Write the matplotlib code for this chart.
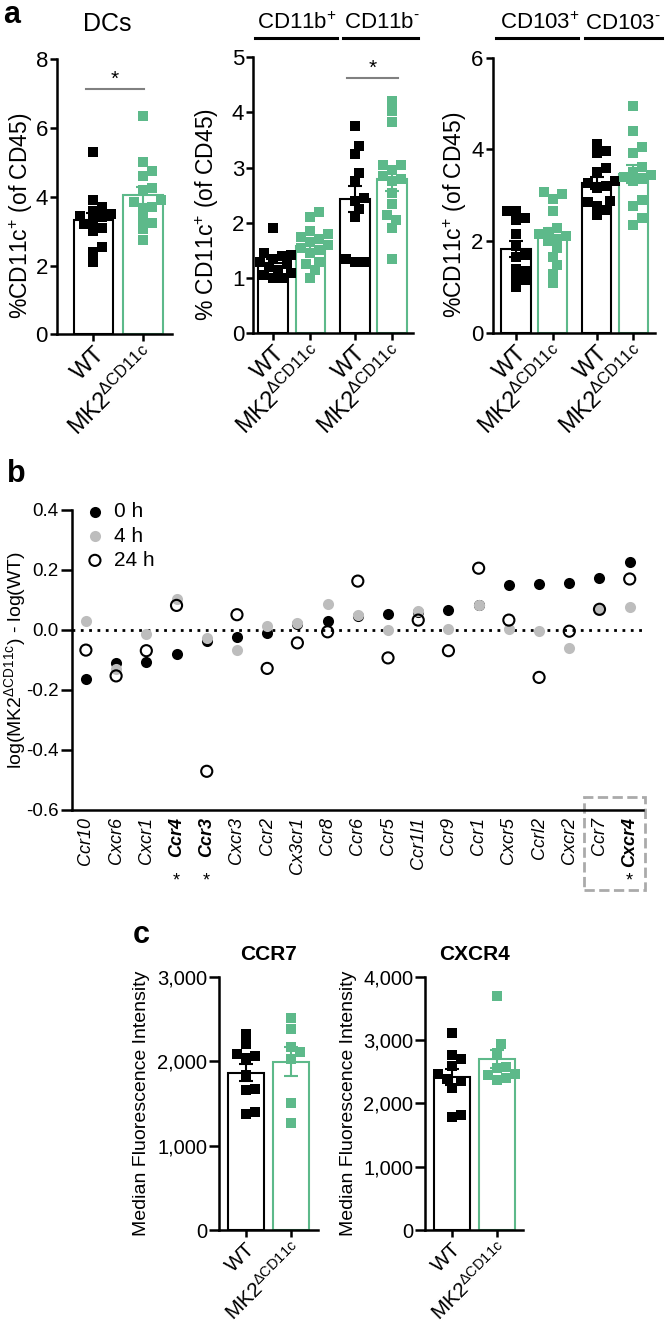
### ------------------------------ Imports ------------------------------ ###

import numpy as np
import matplotlib
matplotlib.use("Agg")
import matplotlib.pyplot as plt
from matplotlib.patches import Rectangle
from matplotlib.ticker import StrMethodFormatter
from matplotlib.transforms import blended_transform_factory

plt.rcParams['font.family'] = ['Liberation Sans', 'DejaVu Sans']
plt.rcParams['mathtext.fontset'] = 'custom'
plt.rcParams['mathtext.rm'] = 'Liberation Sans'
plt.rcParams['mathtext.it'] = 'Liberation Sans:italic'
plt.rcParams['mathtext.bf'] = 'Liberation Sans:bold'
plt.rcParams['mathtext.default'] = 'regular'
plt.rcParams['axes.unicode_minus'] = False

### ------------------------------ Data ------------------------------ ###

groups = ["WT", "MK2$^{ΔCD11c}$"]

# panel a : %CD11c+ (of CD45), one list per bar
dc_wt = [5.3, 3.9, 3.7, 3.6, 3.5, 3.45, 3.4, 3.3, 3.2, 3.1, 3.0, 2.55, 2.4, 2.1]
dc_mk2 = [6.35, 5.0, 4.75, 4.6, 4.25, 4.2, 3.9, 3.85, 3.7, 3.65, 3.35, 3.25, 3.05, 2.75]

cd11bp_wt = [1.9, 1.45, 1.42, 1.4, 1.35, 1.3, 1.25, 1.2, 1.15, 1.1, 1.05, 1.0, 1.0]
cd11bp_mk2 = [2.2, 2.1, 1.85, 1.8, 1.75, 1.7, 1.65, 1.6, 1.55, 1.5, 1.45, 1.3, 1.25, 1.15, 1.0]
cd11bn_wt = [3.75, 3.4, 3.25, 2.9, 2.75, 2.45, 2.4, 2.25, 2.1, 1.35, 1.3, 1.3]
cd11bn_mk2 = [4.2, 4.02, 3.82, 3.05, 3.05, 2.95, 2.85, 2.8, 2.75, 2.55, 2.35, 2.15, 2.05, 1.9, 1.35]

cd103p_wt = [2.65, 2.65, 2.5, 2.45, 2.15, 1.9, 1.7, 1.65, 1.4, 1.35, 1.2, 1.15, 1.0]
cd103p_mk2 = [3.08, 3.03, 2.92, 2.66, 2.28, 2.2, 2.15, 2.1, 2.05, 2.0, 1.84, 1.66, 1.48, 1.29, 1.08]
cd103n_wt = [4.11, 3.97, 3.91, 3.59, 3.51, 3.3, 3.26, 3.21, 3.15, 2.87, 2.85, 2.77, 2.68, 2.57]
cd103n_mk2 = [4.95, 4.41, 4.05, 3.93, 3.62, 3.5, 3.45, 3.4, 3.35, 3.3, 2.89, 2.76, 2.5, 2.35]

# panel b : log(MK2) - log(WT) per chemokine receptor
genes = ["Ccr10", "Cxcr6", "Cxcr1", "Ccr4", "Ccr3", "Cxcr3", "Ccr2", "Cx3cr1", "Ccr8", "Ccr6",
         "Ccr5", "Ccr1l1", "Ccr9", "Ccr1", "Cxcr5", "Ccrl2", "Cxcr2", "Ccr7", "Cxcr4"]
h0 = [-0.162, -0.111, -0.106, -0.081, -0.035, -0.024, -0.011, 0.020, 0.029, 0.047,
      0.053, 0.060, 0.068, 0.085, 0.151, 0.154, 0.156, 0.174, 0.228]
h4 = [0.031, -0.131, -0.014, 0.104, -0.026, -0.067, 0.014, 0.024, 0.087, 0.050,
      0.000, 0.064, 0.002, 0.083, 0.002, -0.002, -0.061, 0.068, 0.077]
h24 = [-0.067, -0.153, -0.069, 0.082, -0.471, 0.051, -0.128, -0.043, -0.006, 0.163,
       -0.093, 0.033, -0.069, 0.206, 0.033, -0.158, -0.004, 0.069, 0.170]
bold_genes = ["Ccr4", "Ccr3", "Cxcr4"]

# panel c : median fluorescence intensity
ccr7_wt = [2320, 2200, 2080, 2060, 2040, 1840, 1670, 1660, 1400, 1370]
ccr7_mk2 = [2510, 2380, 2170, 2110, 2020, 1500, 1270]
cxcr4_wt = [3105, 2760, 2700, 2590, 2470, 2380, 2360, 2240, 1820, 1790]
cxcr4_mk2 = [3695, 2940, 2800, 2580, 2560, 2470, 2450, 2400, 2370]

### ------------------------------ Helpers ------------------------------ ###

W, H = 666, 1330
GREEN = "#5db98a"
fig = plt.figure(figsize=(W / 100, H / 100), dpi=100)


def px_axes(left, right, top, bottom):
    # place an axes from pixel edges of the reference
    return fig.add_axes([left / W, 1 - bottom / H, (right - left) / W, (bottom - top) / H])


def style(ax):
    for s in ['top', 'right']:
        ax.spines[s].set_visible(False)
    for s in ['left', 'bottom']:
        ax.spines[s].set_linewidth(1.8)
    ax.tick_params(width=1.8, length=5, pad=1.5, direction='out')


def swarm_x(ax, x0, vals, d_px):
    # simple beeswarm, spread points that would overlap (pixel space)
    pts = ax.transData.transform(np.column_stack([np.full(len(vals), x0), vals]))
    cx, ys = pts[0, 0], pts[:, 1]
    out = np.zeros(len(vals))
    placed = []
    for i in np.argsort(ys):
        for k in [0, 1, -1, 2, -2, 3, -3, 4, -4, 5, -5]:
            xp = cx + k * d_px * 0.5
            if all(np.hypot(xp - px, ys[i] - py) >= d_px for px, py in placed):
                break
        placed.append((xp, ys[i]))
        out[i] = xp
    return ax.transData.inverted().transform(np.column_stack([out, ys]))[:, 0]


def bar_scatter(ax, xpos, series, colors, ms=55, d_px=9):
    for x, vals, c in zip(xpos, series, colors):
        vals = np.asarray(vals, dtype=float)
        m = vals.mean()
        sem = vals.std(ddof=1) / np.sqrt(len(vals))
        ax.bar(x, m, width=0.8, facecolor='white', edgecolor=c, linewidth=1.5, zorder=1)
        ax.scatter(swarm_x(ax, x, vals, d_px), vals, marker='s', s=ms, color=c,
                   linewidths=0, zorder=2, clip_on=False)
        ax.errorbar(x, m, yerr=sem, fmt='none', ecolor=c, elinewidth=1.5,
                    capsize=5, capthick=1.5, zorder=3)


def sig_bar(ax, x1, x2, y):
    ax.plot([x1, x2], [y, y], color='#808080', lw=1.5, clip_on=False)
    ax.text((x1 + x2) / 2, y, '*', ha='center', va='bottom', fontsize=15)


def header(ax, x1, x2, xt, label):
    tr = blended_transform_factory(ax.transData, ax.transAxes)
    ax.plot([x1, x2], [1.07, 1.07], color='black', lw=2.2, transform=tr, clip_on=False)
    ax.text(xt, 1.125, label, ha='center', va='center', fontsize=16, transform=tr)


### ------------------------------ Panel a ------------------------------ ###

ax1 = px_axes(57, 172, 59.3, 334.3)
ax1.set_xlim(-0.735, 1.59)
ax1.set_ylim(0, 8)
style(ax1)
bar_scatter(ax1, [0, 1], [dc_wt, dc_mk2], ['black', GREEN])
ax1.set_yticks([0, 2, 4, 6, 8])
sig_bar(ax1, -0.15, 1.03, 7.13)
ax1.text(0.29, 1.13, "DCs", fontsize=18, ha='center', va='center',
         transform=blended_transform_factory(ax1.transData, ax1.transAxes))

ax2 = px_axes(253.3, 413.3, 57.3, 333.3)
ax2.set_xlim(-0.54, 3.78)
ax2.set_ylim(0, 5)
style(ax2)
bar_scatter(ax2, [0, 1, 2.2, 3.2], [cd11bp_wt, cd11bp_mk2, cd11bn_wt, cd11bn_mk2],
            ['black', GREEN, 'black', GREEN])
ax2.set_yticks([0, 1, 2, 3, 4, 5])
sig_bar(ax2, 1.98, 3.38, 4.63)
header(ax2, -0.49, 1.71, 0.63, "CD11b$^{+}$")
header(ax2, 1.88, 3.91, 2.93, "CD11b$^{\u2010}$")

ax3 = px_axes(492.7, 655, 57.7, 332.7)
ax3.set_xlim(-0.63, 3.79)
ax3.set_ylim(0, 6)
style(ax3)
bar_scatter(ax3, [0, 1, 2.2, 3.2], [cd103p_wt, cd103p_mk2, cd103n_wt, cd103n_mk2],
            ['black', GREEN, 'black', GREEN])
ax3.set_yticks([0, 2, 4, 6])
header(ax3, -0.53, 1.7, 0.65, "CD103$^{+}$")
header(ax3, 1.88, 3.97, 2.92, "CD103$^{\u2010}$")

for ax, xt, lab, lx in [(ax1, [0, 1], "%CD11c$^{+}$ (of CD45)", -0.31),
                        (ax2, [0, 1, 2.2, 3.2], "% CD11c$^{+}$ (of CD45)", -0.29),
                        (ax3, [0, 1, 2.2, 3.2], "%CD11c$^{+}$ (of CD45)", -0.235)]:
    ax.set_xticks(xt)
    ax.set_xticklabels(groups * (len(xt) // 2), rotation=45, ha='right',
                       rotation_mode='anchor', fontsize=17)
    ax.tick_params(axis='y', labelsize=16)
    ax.set_ylabel(lab, fontsize=16.5, va='center')
    ax.yaxis.set_label_coords(lx, 0.43)

### ------------------------------ Panel b ------------------------------ ###

axb = px_axes(72, 643, 510, 810)
xg = np.arange(len(genes))
axb.set_xlim(-0.46, 18.44)
axb.set_ylim(-0.6, 0.4)
style(axb)
axb.tick_params(axis='y', length=8)
axb.axhline(0, color='black', lw=2, ls=(0, (1, 2)), zorder=0)
axb.scatter(xg, h0, s=64, color='black', linewidths=0, label='0 h', zorder=2)
axb.scatter(xg, h4, s=64, color='#bdbdbd', linewidths=0, label='4 h', zorder=3)
axb.scatter(xg, h24, s=64, facecolor='none', edgecolor='black', linewidths=1.5,
            label='24 h', zorder=4)
axb.set_yticks([-0.6, -0.4, -0.2, 0.0, 0.2, 0.4])
axb.yaxis.set_major_formatter(StrMethodFormatter('{x:.1f}'))
axb.tick_params(axis='y', labelsize=13.5)
axb.set_xticks(xg)
axb.set_xticklabels(genes, rotation=90, fontsize=13, fontstyle='italic')
axb.tick_params(axis='x', length=0, pad=5)
for lab in axb.get_xticklabels():
    if lab.get_text() in bold_genes:
        lab.set_fontweight('bold')
for i, g in enumerate(genes):
    if g in bold_genes:
        axb.text(i, -0.835, '*', ha='center', va='center', fontsize=13, clip_on=False)
axb.add_patch(Rectangle((16.49, -0.867), 2.02, 0.31, fill=False, ls='--',
                        ec='#aaaaaa', lw=2, clip_on=False))
axb.set_ylabel("log(MK2$^{ΔCD11c}$) - log(WT)", fontsize=14, va='center')
axb.yaxis.set_label_coords(-0.1, 0.5)
axb.legend(loc='upper left', bbox_to_anchor=(0.0, 1.06), frameon=False, fontsize=15,
           handletextpad=0.3, labelspacing=0.25, borderpad=0, handlelength=1.2,
           scatterpoints=1)

### ------------------------------ Panel c ------------------------------ ###

axc1 = px_axes(219, 318.3, 976.7, 1230)
axc1.set_xlim(-0.59, 1.61)
axc1.set_ylim(0, 3000)
style(axc1)
bar_scatter(axc1, [0, 1], [ccr7_wt, ccr7_mk2], ['black', GREEN], ms=55)
axc1.set_yticks([0, 1000, 2000, 3000])
axc1.set_title("CCR7", fontsize=15, fontweight='bold', pad=12)

axc2 = px_axes(425, 523.3, 976.7, 1230)
axc2.set_xlim(-0.59, 1.59)
axc2.set_ylim(0, 4000)
style(axc2)
bar_scatter(axc2, [0, 1], [cxcr4_wt, cxcr4_mk2], ['black', GREEN], ms=55)
axc2.set_yticks([0, 1000, 2000, 3000, 4000])
axc2.set_title("CXCR4", fontsize=15, fontweight='bold', pad=12)

for ax in [axc1, axc2]:
    ax.yaxis.set_major_formatter(StrMethodFormatter('{x:,.0f}'))
    ax.tick_params(axis='y', labelsize=14.5, length=7)
    ax.set_xticks([0, 1])
    ax.set_xticklabels(groups, rotation=45, ha='right', rotation_mode='anchor', fontsize=15)
    ax.set_ylabel("Median Fluorescence Intensity", fontsize=14, va='center')
    ax.yaxis.set_label_coords(-0.78, 0.5)

### ------------------------------ Panel letters ------------------------------ ###

fig.text(3 / W, 1 - 23 / H, 'a', fontsize=22, fontweight='bold', va='baseline')
fig.text(7 / W, 1 - 482 / H, 'b', fontsize=22, fontweight='bold', va='baseline')
fig.text(133 / W, 1 - 943 / H, 'c', fontsize=22, fontweight='bold', va='baseline')

fig.savefig("out.png", dpi=100)
